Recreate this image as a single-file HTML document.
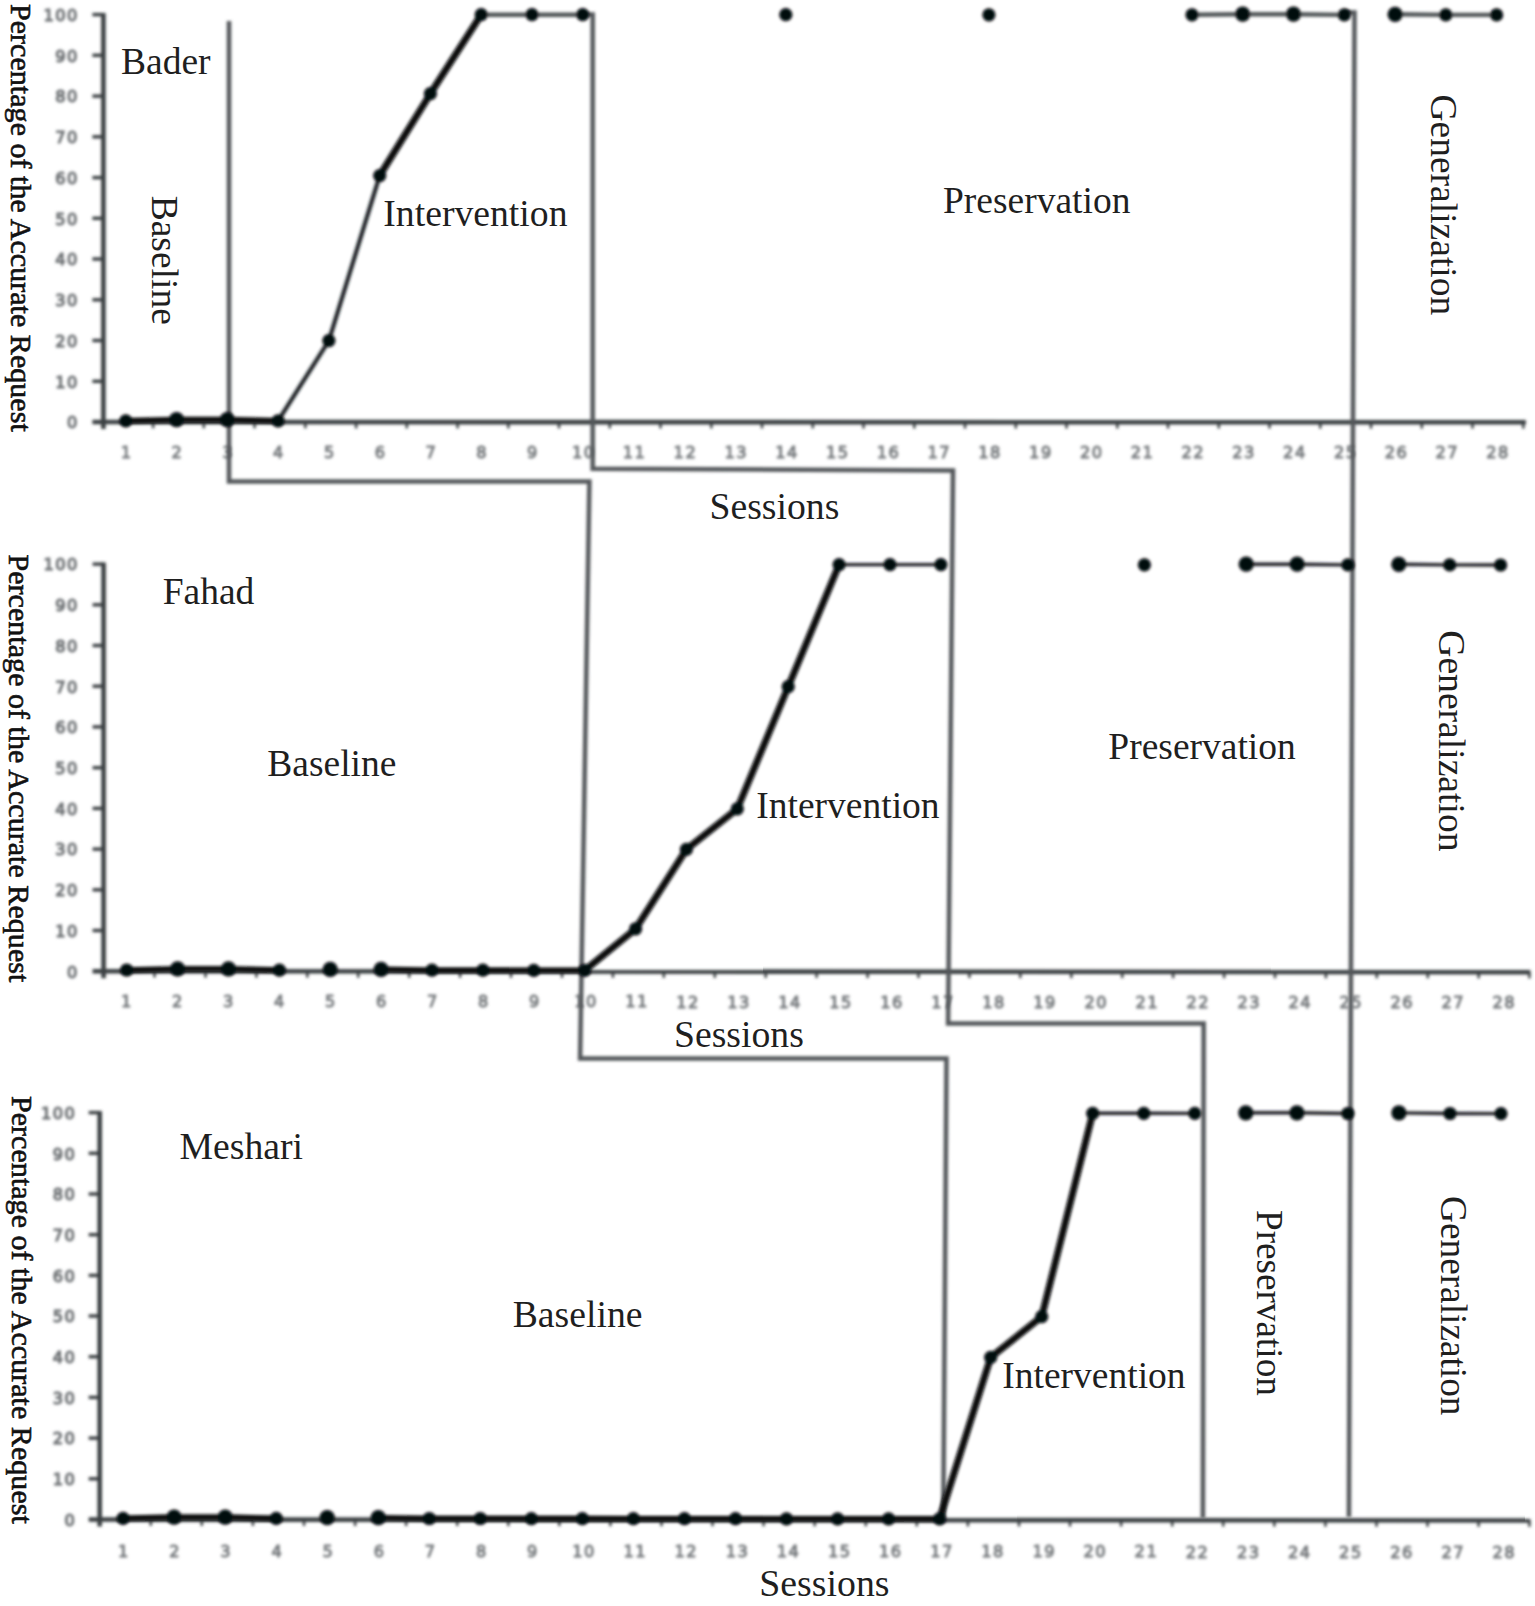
<!DOCTYPE html>
<html lang="en"><head><meta charset="utf-8"><title>Figure</title>
<style>html,body{margin:0;padding:0;background:#fff}svg{display:block}.t{font-family:"Liberation Serif","DejaVu Serif",serif;fill:#1f1f1f}.n{font-family:"DejaVu Sans","Liberation Sans",sans-serif;fill:#707477}</style></head><body>
<svg width="1535" height="1606" viewBox="0 0 1535 1606">
<defs><filter id="b1" x="-5%" y="-5%" width="110%" height="110%"><feGaussianBlur stdDeviation="1.4"/></filter><filter id="b2" x="-5%" y="-5%" width="110%" height="110%"><feGaussianBlur stdDeviation="1.6"/></filter></defs>
<rect width="1535" height="1606" fill="#fff"/>
<g filter="url(#b1)">
<g stroke="#3a3f42" stroke-width="4.6" fill="none">
<path d="M103.4 13.1 V429.0"/>
<path d="M92.4 422.0 L1525.9 422.3"/>
</g>
<g stroke="#3a3f42" stroke-width="3.4">
<path d="M92.4 381.3 H103.4"/>
<path d="M92.4 340.5 H103.4"/>
<path d="M92.4 299.8 H103.4"/>
<path d="M92.4 259.0 H103.4"/>
<path d="M92.4 218.3 H103.4"/>
<path d="M92.4 177.6 H103.4"/>
<path d="M92.4 136.8 H103.4"/>
<path d="M92.4 96.1 H103.4"/>
<path d="M92.4 55.3 H103.4"/>
<path d="M92.4 14.6 H103.4"/>
</g>
<g stroke="#3a3f42" stroke-width="2.5">
<path d="M153.1 422.0 V428.3"/>
<path d="M203.8 422.0 V428.3"/>
<path d="M254.6 422.0 V428.3"/>
<path d="M305.3 422.0 V428.3"/>
<path d="M356.1 422.1 V428.4"/>
<path d="M406.8 422.1 V428.4"/>
<path d="M457.6 422.1 V428.4"/>
<path d="M508.3 422.1 V428.4"/>
<path d="M559.0 422.1 V428.4"/>
<path d="M609.8 422.1 V428.4"/>
<path d="M660.5 422.1 V428.4"/>
<path d="M711.3 422.1 V428.4"/>
<path d="M762.0 422.1 V428.4"/>
<path d="M812.8 422.1 V428.4"/>
<path d="M863.5 422.2 V428.5"/>
<path d="M914.3 422.2 V428.5"/>
<path d="M965.0 422.2 V428.5"/>
<path d="M1015.8 422.2 V428.5"/>
<path d="M1066.5 422.2 V428.5"/>
<path d="M1117.3 422.2 V428.5"/>
<path d="M1168.0 422.2 V428.5"/>
<path d="M1218.8 422.2 V428.5"/>
<path d="M1269.5 422.2 V428.5"/>
<path d="M1320.3 422.3 V428.6"/>
<path d="M1371.0 422.3 V428.6"/>
<path d="M1421.8 422.3 V428.6"/>
<path d="M1472.5 422.3 V428.6"/>
<path d="M1523.3 422.3 V428.6"/>
</g>
<g stroke="#3a3f42" stroke-width="4.6" fill="none">
<path d="M103.6 562.6 V978.2"/>
<path d="M92.6 971.2 L1530.4 972.1"/>
</g>
<g stroke="#3a3f42" stroke-width="3.4">
<path d="M92.6 930.5 H103.6"/>
<path d="M92.6 889.8 H103.6"/>
<path d="M92.6 849.1 H103.6"/>
<path d="M92.6 808.4 H103.6"/>
<path d="M92.6 767.7 H103.6"/>
<path d="M92.6 726.9 H103.6"/>
<path d="M92.6 686.2 H103.6"/>
<path d="M92.6 645.5 H103.6"/>
<path d="M92.6 604.8 H103.6"/>
<path d="M92.6 564.1 H103.6"/>
</g>
<g stroke="#3a3f42" stroke-width="2.5">
<path d="M154.5 971.2 V977.5"/>
<path d="M205.5 971.3 V977.6"/>
<path d="M256.4 971.3 V977.6"/>
<path d="M307.3 971.3 V977.6"/>
<path d="M358.2 971.4 V977.7"/>
<path d="M409.2 971.4 V977.7"/>
<path d="M460.1 971.4 V977.7"/>
<path d="M511.0 971.5 V977.8"/>
<path d="M562.0 971.5 V977.8"/>
<path d="M612.9 971.5 V977.8"/>
<path d="M663.8 971.6 V977.9"/>
<path d="M714.8 971.6 V977.9"/>
<path d="M765.7 971.6 V977.9"/>
<path d="M816.6 971.6 V977.9"/>
<path d="M867.6 971.7 V978.0"/>
<path d="M918.5 971.7 V978.0"/>
<path d="M969.4 971.7 V978.0"/>
<path d="M1020.3 971.8 V978.1"/>
<path d="M1071.3 971.8 V978.1"/>
<path d="M1122.2 971.8 V978.1"/>
<path d="M1173.1 971.9 V978.2"/>
<path d="M1224.1 971.9 V978.2"/>
<path d="M1275.0 971.9 V978.2"/>
<path d="M1325.9 972.0 V978.3"/>
<path d="M1376.8 972.0 V978.3"/>
<path d="M1427.8 972.0 V978.3"/>
<path d="M1478.7 972.1 V978.4"/>
<path d="M1529.4 972.1 V978.4"/>
</g>
<g stroke="#3a3f42" stroke-width="4.6" fill="none">
<path d="M99.7 1111.1 V1526.5"/>
<path d="M88.7 1519.5 L1530.4 1520.5"/>
</g>
<g stroke="#3a3f42" stroke-width="3.4">
<path d="M88.7 1478.8 H99.7"/>
<path d="M88.7 1438.1 H99.7"/>
<path d="M88.7 1397.4 H99.7"/>
<path d="M88.7 1356.7 H99.7"/>
<path d="M88.7 1316.0 H99.7"/>
<path d="M88.7 1275.4 H99.7"/>
<path d="M88.7 1234.7 H99.7"/>
<path d="M88.7 1194.0 H99.7"/>
<path d="M88.7 1153.3 H99.7"/>
<path d="M88.7 1112.6 H99.7"/>
</g>
<g stroke="#3a3f42" stroke-width="2.5">
<path d="M150.8 1519.5 V1525.8"/>
<path d="M201.8 1519.6 V1525.9"/>
<path d="M252.9 1519.6 V1525.9"/>
<path d="M304.0 1519.6 V1525.9"/>
<path d="M355.1 1519.7 V1526.0"/>
<path d="M406.1 1519.7 V1526.0"/>
<path d="M457.2 1519.7 V1526.0"/>
<path d="M508.3 1519.8 V1526.1"/>
<path d="M559.3 1519.8 V1526.1"/>
<path d="M610.4 1519.9 V1526.2"/>
<path d="M661.5 1519.9 V1526.2"/>
<path d="M712.5 1519.9 V1526.2"/>
<path d="M763.6 1520.0 V1526.3"/>
<path d="M814.7 1520.0 V1526.3"/>
<path d="M865.8 1520.0 V1526.3"/>
<path d="M916.8 1520.1 V1526.4"/>
<path d="M967.9 1520.1 V1526.4"/>
<path d="M1019.0 1520.1 V1526.4"/>
<path d="M1070.0 1520.2 V1526.5"/>
<path d="M1121.1 1520.2 V1526.5"/>
<path d="M1172.2 1520.2 V1526.5"/>
<path d="M1223.2 1520.3 V1526.6"/>
<path d="M1274.3 1520.3 V1526.6"/>
<path d="M1325.4 1520.4 V1526.7"/>
<path d="M1376.5 1520.4 V1526.7"/>
<path d="M1427.5 1520.4 V1526.7"/>
<path d="M1478.6 1520.5 V1526.8"/>
<path d="M1529.4 1520.5 V1526.8"/>
</g>
</g>
<g class="n" filter="url(#b2)" font-size="16.2" letter-spacing="1.5" style="fill:#6a6e71" stroke="#6a6e71" stroke-width="1.1">
<text x="78.9" y="428.3" text-anchor="end">0</text>
<text x="78.9" y="387.6" text-anchor="end">10</text>
<text x="78.9" y="346.8" text-anchor="end">20</text>
<text x="78.9" y="306.1" text-anchor="end">30</text>
<text x="78.9" y="265.3" text-anchor="end">40</text>
<text x="78.9" y="224.6" text-anchor="end">50</text>
<text x="78.9" y="183.9" text-anchor="end">60</text>
<text x="78.9" y="143.1" text-anchor="end">70</text>
<text x="78.9" y="102.4" text-anchor="end">80</text>
<text x="78.9" y="61.6" text-anchor="end">90</text>
<text x="78.9" y="20.9" text-anchor="end">100</text>
<text x="78.9" y="977.5" text-anchor="end">0</text>
<text x="78.9" y="936.8" text-anchor="end">10</text>
<text x="78.9" y="896.1" text-anchor="end">20</text>
<text x="78.9" y="855.4" text-anchor="end">30</text>
<text x="78.9" y="814.7" text-anchor="end">40</text>
<text x="78.9" y="774.0" text-anchor="end">50</text>
<text x="78.9" y="733.2" text-anchor="end">60</text>
<text x="78.9" y="692.5" text-anchor="end">70</text>
<text x="78.9" y="651.8" text-anchor="end">80</text>
<text x="78.9" y="611.1" text-anchor="end">90</text>
<text x="78.9" y="570.4" text-anchor="end">100</text>
<text x="76.4" y="1525.8" text-anchor="end">0</text>
<text x="76.4" y="1485.1" text-anchor="end">10</text>
<text x="76.4" y="1444.4" text-anchor="end">20</text>
<text x="76.4" y="1403.7" text-anchor="end">30</text>
<text x="76.4" y="1363.0" text-anchor="end">40</text>
<text x="76.4" y="1322.3" text-anchor="end">50</text>
<text x="76.4" y="1281.7" text-anchor="end">60</text>
<text x="76.4" y="1241.0" text-anchor="end">70</text>
<text x="76.4" y="1200.3" text-anchor="end">80</text>
<text x="76.4" y="1159.6" text-anchor="end">90</text>
<text x="76.4" y="1118.9" text-anchor="end">100</text>
</g>
<g class="n" filter="url(#b2)" font-size="16.2" letter-spacing="1.5" style="fill:#74787b" stroke="#74787b" stroke-width="0.9">
<text x="126.6" y="457.9" text-anchor="middle">1</text>
<text x="177.4" y="457.9" text-anchor="middle">2</text>
<text x="228.2" y="457.9" text-anchor="middle">3</text>
<text x="279.0" y="457.9" text-anchor="middle">4</text>
<text x="329.8" y="457.9" text-anchor="middle">5</text>
<text x="380.6" y="458.0" text-anchor="middle">6</text>
<text x="431.4" y="458.0" text-anchor="middle">7</text>
<text x="482.2" y="458.0" text-anchor="middle">8</text>
<text x="533.0" y="458.0" text-anchor="middle">9</text>
<text x="583.8" y="458.0" text-anchor="middle">10</text>
<text x="634.6" y="458.0" text-anchor="middle">11</text>
<text x="685.4" y="458.0" text-anchor="middle">12</text>
<text x="736.2" y="458.0" text-anchor="middle">13</text>
<text x="787.0" y="458.0" text-anchor="middle">14</text>
<text x="837.7" y="458.1" text-anchor="middle">15</text>
<text x="888.5" y="458.1" text-anchor="middle">16</text>
<text x="939.3" y="458.1" text-anchor="middle">17</text>
<text x="990.1" y="458.1" text-anchor="middle">18</text>
<text x="1040.9" y="458.1" text-anchor="middle">19</text>
<text x="1091.7" y="458.1" text-anchor="middle">20</text>
<text x="1142.5" y="458.1" text-anchor="middle">21</text>
<text x="1193.3" y="458.1" text-anchor="middle">22</text>
<text x="1244.1" y="458.1" text-anchor="middle">23</text>
<text x="1294.9" y="458.2" text-anchor="middle">24</text>
<text x="1345.7" y="458.2" text-anchor="middle">25</text>
<text x="1396.5" y="458.2" text-anchor="middle">26</text>
<text x="1447.3" y="458.2" text-anchor="middle">27</text>
<text x="1498.1" y="458.2" text-anchor="middle">28</text>
<text x="126.8" y="1007.1" text-anchor="middle">1</text>
<text x="177.8" y="1007.1" text-anchor="middle">2</text>
<text x="228.8" y="1007.2" text-anchor="middle">3</text>
<text x="279.9" y="1007.2" text-anchor="middle">4</text>
<text x="330.9" y="1007.2" text-anchor="middle">5</text>
<text x="381.9" y="1007.3" text-anchor="middle">6</text>
<text x="432.9" y="1007.3" text-anchor="middle">7</text>
<text x="483.9" y="1007.3" text-anchor="middle">8</text>
<text x="534.9" y="1007.4" text-anchor="middle">9</text>
<text x="586.0" y="1007.4" text-anchor="middle">10</text>
<text x="637.0" y="1007.4" text-anchor="middle">11</text>
<text x="688.0" y="1007.5" text-anchor="middle">12</text>
<text x="739.0" y="1007.5" text-anchor="middle">13</text>
<text x="790.0" y="1007.5" text-anchor="middle">14</text>
<text x="841.1" y="1007.6" text-anchor="middle">15</text>
<text x="892.1" y="1007.6" text-anchor="middle">16</text>
<text x="943.1" y="1007.6" text-anchor="middle">17</text>
<text x="994.1" y="1007.7" text-anchor="middle">18</text>
<text x="1045.1" y="1007.7" text-anchor="middle">19</text>
<text x="1096.2" y="1007.7" text-anchor="middle">20</text>
<text x="1147.2" y="1007.8" text-anchor="middle">21</text>
<text x="1198.2" y="1007.8" text-anchor="middle">22</text>
<text x="1249.2" y="1007.8" text-anchor="middle">23</text>
<text x="1300.2" y="1007.9" text-anchor="middle">24</text>
<text x="1351.2" y="1007.9" text-anchor="middle">25</text>
<text x="1402.3" y="1007.9" text-anchor="middle">26</text>
<text x="1453.3" y="1008.0" text-anchor="middle">27</text>
<text x="1504.3" y="1008.0" text-anchor="middle">28</text>
<text x="124.0" y="1556.7" text-anchor="middle">1</text>
<text x="175.1" y="1556.8" text-anchor="middle">2</text>
<text x="226.2" y="1556.8" text-anchor="middle">3</text>
<text x="277.4" y="1556.8" text-anchor="middle">4</text>
<text x="328.5" y="1556.9" text-anchor="middle">5</text>
<text x="379.6" y="1556.9" text-anchor="middle">6</text>
<text x="430.7" y="1556.9" text-anchor="middle">7</text>
<text x="481.9" y="1557.0" text-anchor="middle">8</text>
<text x="533.0" y="1557.0" text-anchor="middle">9</text>
<text x="584.1" y="1557.0" text-anchor="middle">10</text>
<text x="635.2" y="1557.1" text-anchor="middle">11</text>
<text x="686.3" y="1557.1" text-anchor="middle">12</text>
<text x="737.5" y="1557.1" text-anchor="middle">13</text>
<text x="788.6" y="1557.2" text-anchor="middle">14</text>
<text x="839.7" y="1557.2" text-anchor="middle">15</text>
<text x="890.8" y="1557.3" text-anchor="middle">16</text>
<text x="942.0" y="1557.3" text-anchor="middle">17</text>
<text x="993.1" y="1557.3" text-anchor="middle">18</text>
<text x="1044.2" y="1557.4" text-anchor="middle">19</text>
<text x="1095.3" y="1557.4" text-anchor="middle">20</text>
<text x="1146.4" y="1557.4" text-anchor="middle">21</text>
<text x="1197.6" y="1557.5" text-anchor="middle">22</text>
<text x="1248.7" y="1557.5" text-anchor="middle">23</text>
<text x="1299.8" y="1557.5" text-anchor="middle">24</text>
<text x="1350.9" y="1557.6" text-anchor="middle">25</text>
<text x="1402.1" y="1557.6" text-anchor="middle">26</text>
<text x="1453.2" y="1557.6" text-anchor="middle">27</text>
<text x="1504.3" y="1557.7" text-anchor="middle">28</text>
</g>
<g filter="url(#b1)" stroke="#52575a" stroke-width="4.5" fill="none" stroke-linejoin="miter">
<path d="M229 21 V481.6 H589.4 L580.1 1058.6 H946.5 L943.3 1518"/>
<path d="M582 14.6 H592.7 V468.7 L953 470.5 L948.1 1023.4 H1203.7 L1202.9 1518"/>
<path d="M1344 12.6 H1354.5 L1348.9 1517"/>
</g>
<g filter="url(#b1)">
<path d="M125.8 420.8 L176.6 419.6" stroke="#0c0c0c" stroke-width="5.6"/>
<path d="M176.6 419.6 L227.3 419.6" stroke="#0c0c0c" stroke-width="5.6"/>
<path d="M227.3 419.6 L278.1 420.8" stroke="#0c0c0c" stroke-width="5.6"/>
<path d="M278.1 420.8 L328.9 340.6" stroke="#1d2126" stroke-width="4.2" stroke-linecap="round"/>
<path d="M328.9 340.6 L379.7 175.6" stroke="#1d2126" stroke-width="4.2" stroke-linecap="round"/>
<path d="M379.7 175.6 L430.4 93.7" stroke="#08090b" stroke-width="6.8" stroke-linecap="round"/>
<path d="M430.4 93.7 L481.2 14.7" stroke="#08090b" stroke-width="6.8" stroke-linecap="round"/>
<path d="M481.2 14.7 L532.0 14.7" stroke="#4f5457" stroke-width="4.4"/>
<path d="M532.0 14.7 L582.7 14.7" stroke="#4f5457" stroke-width="4.4"/>
<circle cx="125.8" cy="420.8" r="6.6" fill="#06070b"/>
<circle cx="176.6" cy="419.6" r="7.6" fill="#06070b"/>
<circle cx="227.3" cy="419.6" r="7.6" fill="#06070b"/>
<circle cx="278.1" cy="420.8" r="6.6" fill="#06070b"/>
<circle cx="328.9" cy="340.6" r="6.6" fill="#06070b"/>
<circle cx="379.7" cy="175.6" r="6.6" fill="#06070b"/>
<circle cx="430.4" cy="93.7" r="6.6" fill="#06070b"/>
<circle cx="481.2" cy="14.7" r="6.6" fill="#06070b"/>
<circle cx="532.0" cy="14.7" r="6.6" fill="#06070b"/>
<circle cx="582.7" cy="14.7" r="6.6" fill="#06070b"/>
<circle cx="785.8" cy="14.7" r="6.6" fill="#06070b"/>
<circle cx="988.9" cy="14.8" r="6.6" fill="#06070b"/>
<path d="M1192.0 14.8 L1242.7 14.2" stroke="#4f5457" stroke-width="4.4"/>
<path d="M1242.7 14.2 L1293.5 14.2" stroke="#4f5457" stroke-width="4.4"/>
<path d="M1293.5 14.2 L1344.3 14.9" stroke="#4f5457" stroke-width="4.4"/>
<circle cx="1192.0" cy="14.8" r="6.6" fill="#06070b"/>
<circle cx="1242.7" cy="14.2" r="7.6" fill="#06070b"/>
<circle cx="1293.5" cy="14.2" r="7.6" fill="#06070b"/>
<circle cx="1344.3" cy="14.9" r="6.6" fill="#06070b"/>
<path d="M1395.1 14.3 L1445.8 14.9" stroke="#4f5457" stroke-width="4.4"/>
<path d="M1445.8 14.9 L1496.6 14.9" stroke="#4f5457" stroke-width="4.4"/>
<circle cx="1395.1" cy="14.3" r="7.6" fill="#06070b"/>
<circle cx="1445.8" cy="14.9" r="6.6" fill="#06070b"/>
<circle cx="1496.6" cy="14.9" r="6.6" fill="#06070b"/>
<path d="M126.7 970.0 L177.6 968.8" stroke="#0c0c0c" stroke-width="5.6"/>
<path d="M177.6 968.8 L228.5 968.8" stroke="#0c0c0c" stroke-width="5.6"/>
<path d="M228.5 968.8 L279.4 970.1" stroke="#0c0c0c" stroke-width="5.6"/>
<circle cx="126.7" cy="970.0" r="6.6" fill="#06070b"/>
<circle cx="177.6" cy="968.8" r="7.6" fill="#06070b"/>
<circle cx="228.5" cy="968.8" r="7.6" fill="#06070b"/>
<circle cx="279.4" cy="970.1" r="6.6" fill="#06070b"/>
<circle cx="330.2" cy="969.3" r="7.6" fill="#06070b"/>
<path d="M381.1 969.3 L432.0 970.2" stroke="#0c0c0c" stroke-width="5.6"/>
<path d="M432.0 970.2 L482.9 970.2" stroke="#0c0c0c" stroke-width="5.6"/>
<path d="M482.9 970.2 L533.8 970.3" stroke="#0c0c0c" stroke-width="5.6"/>
<path d="M533.8 970.3 L584.7 970.3" stroke="#0c0c0c" stroke-width="5.6"/>
<path d="M584.7 970.3 L635.6 928.8" stroke="#08090b" stroke-width="6.8" stroke-linecap="round"/>
<path d="M635.6 928.8 L686.4 849.4" stroke="#08090b" stroke-width="6.8" stroke-linecap="round"/>
<path d="M686.4 849.4 L737.3 808.8" stroke="#08090b" stroke-width="6.8" stroke-linecap="round"/>
<path d="M737.3 808.8 L788.2 686.7" stroke="#08090b" stroke-width="6.8" stroke-linecap="round"/>
<path d="M788.2 686.7 L839.1 564.6" stroke="#08090b" stroke-width="6.8" stroke-linecap="round"/>
<path d="M839.1 564.6 L890.0 564.6" stroke="#1b1d20" stroke-width="3.4"/>
<path d="M890.0 564.6 L940.9 564.6" stroke="#1b1d20" stroke-width="3.4"/>
<circle cx="381.1" cy="969.3" r="7.6" fill="#06070b"/>
<circle cx="432.0" cy="970.2" r="6.6" fill="#06070b"/>
<circle cx="482.9" cy="970.2" r="6.6" fill="#06070b"/>
<circle cx="533.8" cy="970.3" r="6.6" fill="#06070b"/>
<circle cx="584.7" cy="970.3" r="6.6" fill="#06070b"/>
<circle cx="635.6" cy="928.8" r="6.6" fill="#06070b"/>
<circle cx="686.4" cy="849.4" r="6.6" fill="#06070b"/>
<circle cx="737.3" cy="808.8" r="6.6" fill="#06070b"/>
<circle cx="788.2" cy="686.7" r="6.6" fill="#06070b"/>
<circle cx="839.1" cy="564.6" r="6.6" fill="#06070b"/>
<circle cx="890.0" cy="564.6" r="6.6" fill="#06070b"/>
<circle cx="940.9" cy="564.6" r="6.6" fill="#06070b"/>
<circle cx="1144.4" cy="564.8" r="6.6" fill="#06070b"/>
<path d="M1246.2 564.2 L1297.1 564.2" stroke="#1b1d20" stroke-width="3.4"/>
<path d="M1297.1 564.2 L1347.9 564.9" stroke="#1b1d20" stroke-width="3.4"/>
<circle cx="1246.2" cy="564.2" r="7.6" fill="#06070b"/>
<circle cx="1297.1" cy="564.2" r="7.6" fill="#06070b"/>
<circle cx="1347.9" cy="564.9" r="6.6" fill="#06070b"/>
<path d="M1398.8 564.3 L1449.7 564.9" stroke="#1b1d20" stroke-width="3.4"/>
<path d="M1449.7 564.9 L1500.6 565.0" stroke="#1b1d20" stroke-width="3.4"/>
<circle cx="1398.8" cy="564.3" r="7.6" fill="#06070b"/>
<circle cx="1449.7" cy="564.9" r="6.6" fill="#06070b"/>
<circle cx="1500.6" cy="565.0" r="6.6" fill="#06070b"/>
<path d="M123.1 1518.3 L174.1 1517.1" stroke="#0c0c0c" stroke-width="5.6"/>
<path d="M174.1 1517.1 L225.2 1517.1" stroke="#0c0c0c" stroke-width="5.6"/>
<path d="M225.2 1517.1 L276.2 1518.4" stroke="#0c0c0c" stroke-width="5.6"/>
<circle cx="123.1" cy="1518.3" r="6.6" fill="#06070b"/>
<circle cx="174.1" cy="1517.1" r="7.6" fill="#06070b"/>
<circle cx="225.2" cy="1517.1" r="7.6" fill="#06070b"/>
<circle cx="276.2" cy="1518.4" r="6.6" fill="#06070b"/>
<circle cx="327.2" cy="1517.6" r="7.6" fill="#06070b"/>
<path d="M378.3 1517.7 L429.3 1518.5" stroke="#0c0c0c" stroke-width="5.6"/>
<path d="M429.3 1518.5 L480.3 1518.5" stroke="#0c0c0c" stroke-width="5.6"/>
<path d="M480.3 1518.5 L531.4 1518.6" stroke="#0c0c0c" stroke-width="5.6"/>
<path d="M531.4 1518.6 L582.4 1518.6" stroke="#0c0c0c" stroke-width="5.6"/>
<path d="M582.4 1518.6 L633.4 1518.7" stroke="#0c0c0c" stroke-width="5.6"/>
<path d="M633.4 1518.7 L684.5 1518.7" stroke="#0c0c0c" stroke-width="5.6"/>
<path d="M684.5 1518.7 L735.5 1518.7" stroke="#0c0c0c" stroke-width="5.6"/>
<path d="M735.5 1518.7 L786.5 1518.8" stroke="#0c0c0c" stroke-width="5.6"/>
<path d="M786.5 1518.8 L837.6 1518.8" stroke="#0c0c0c" stroke-width="5.6"/>
<path d="M837.6 1518.8 L888.6 1518.8" stroke="#0c0c0c" stroke-width="5.6"/>
<path d="M888.6 1518.8 L939.6 1518.9" stroke="#0c0c0c" stroke-width="5.6"/>
<path d="M939.6 1518.9 L990.7 1357.4" stroke="#08090b" stroke-width="6.8" stroke-linecap="round"/>
<path d="M990.7 1357.4 L1041.7 1316.7" stroke="#08090b" stroke-width="6.8" stroke-linecap="round"/>
<path d="M1041.7 1316.7 L1092.7 1113.3" stroke="#08090b" stroke-width="6.8" stroke-linecap="round"/>
<path d="M1092.7 1113.3 L1143.8 1113.3" stroke="#1b1d20" stroke-width="3.4"/>
<path d="M1143.8 1113.3 L1194.8 1113.4" stroke="#1b1d20" stroke-width="3.4"/>
<circle cx="378.3" cy="1517.7" r="7.6" fill="#06070b"/>
<circle cx="429.3" cy="1518.5" r="6.6" fill="#06070b"/>
<circle cx="480.3" cy="1518.5" r="6.6" fill="#06070b"/>
<circle cx="531.4" cy="1518.6" r="6.6" fill="#06070b"/>
<circle cx="582.4" cy="1518.6" r="6.6" fill="#06070b"/>
<circle cx="633.4" cy="1518.7" r="6.6" fill="#06070b"/>
<circle cx="684.5" cy="1518.7" r="6.6" fill="#06070b"/>
<circle cx="735.5" cy="1518.7" r="6.6" fill="#06070b"/>
<circle cx="786.5" cy="1518.8" r="6.6" fill="#06070b"/>
<circle cx="837.6" cy="1518.8" r="6.6" fill="#06070b"/>
<circle cx="888.6" cy="1518.8" r="6.6" fill="#06070b"/>
<circle cx="939.6" cy="1518.9" r="6.6" fill="#06070b"/>
<circle cx="990.7" cy="1357.4" r="6.6" fill="#06070b"/>
<circle cx="1041.7" cy="1316.7" r="6.6" fill="#06070b"/>
<circle cx="1092.7" cy="1113.3" r="6.6" fill="#06070b"/>
<circle cx="1143.8" cy="1113.3" r="6.6" fill="#06070b"/>
<circle cx="1194.8" cy="1113.4" r="6.6" fill="#06070b"/>
<path d="M1245.8 1112.8 L1296.9 1112.8" stroke="#1b1d20" stroke-width="3.4"/>
<path d="M1296.9 1112.8 L1347.9 1113.5" stroke="#1b1d20" stroke-width="3.4"/>
<circle cx="1245.8" cy="1112.8" r="7.6" fill="#06070b"/>
<circle cx="1296.9" cy="1112.8" r="7.6" fill="#06070b"/>
<circle cx="1347.9" cy="1113.5" r="6.6" fill="#06070b"/>
<path d="M1398.9 1112.9 L1450.0 1113.5" stroke="#1b1d20" stroke-width="3.4"/>
<path d="M1450.0 1113.5 L1501.0 1113.6" stroke="#1b1d20" stroke-width="3.4"/>
<circle cx="1398.9" cy="1112.9" r="7.6" fill="#06070b"/>
<circle cx="1450.0" cy="1113.5" r="6.6" fill="#06070b"/>
<circle cx="1501.0" cy="1113.6" r="6.6" fill="#06070b"/>
</g>
<text class="t" x="11.2" y="4.0" font-size="30.1" stroke="#111" stroke-width="0.6" fill="#111" style="fill:#111" transform="rotate(90 11.2 4.0)">Percentage of the Accurate Request</text>
<text class="t" x="9.0" y="554.5" font-size="30.1" stroke="#111" stroke-width="0.6" fill="#111" style="fill:#111" transform="rotate(90 9.0 554.5)">Percentage of the Accurate Request</text>
<text class="t" x="11.5" y="1096.0" font-size="30.1" stroke="#111" stroke-width="0.6" fill="#111" style="fill:#111" transform="rotate(90 11.5 1096.0)">Percentage of the Accurate Request</text>
<text class="t" x="121.0" y="73.5" font-size="37.5" text-anchor="start">Bader</text>
<text class="t" x="151.8" y="195.7" font-size="37.5" text-anchor="start" transform="rotate(90 151.8 195.7)">Baseline</text>
<text class="t" x="383.3" y="225.8" font-size="37.7" text-anchor="start">Intervention</text>
<text class="t" x="943.0" y="213.2" font-size="37.5" text-anchor="start">Preservation</text>
<text class="t" x="1431.0" y="94.5" font-size="37.5" text-anchor="start" transform="rotate(90 1431.0 94.5)">Generalization</text>
<text class="t" x="709.5" y="518.6" font-size="37.7" text-anchor="start">Sessions</text>
<text class="t" x="162.7" y="603.7" font-size="37.5" text-anchor="start">Fahad</text>
<text class="t" x="267.3" y="776.2" font-size="37.5" text-anchor="start">Baseline</text>
<text class="t" x="756.3" y="818.3" font-size="37.5" text-anchor="start">Intervention</text>
<text class="t" x="1108.3" y="759.0" font-size="37.5" text-anchor="start">Preservation</text>
<text class="t" x="1438.5" y="630.3" font-size="37.6" text-anchor="start" transform="rotate(90 1438.5 630.3)">Generalization</text>
<text class="t" x="674.0" y="1046.6" font-size="37.7" text-anchor="start">Sessions</text>
<text class="t" x="179.5" y="1158.7" font-size="37.7" text-anchor="start">Meshari</text>
<text class="t" x="512.7" y="1326.5" font-size="37.7" text-anchor="start">Baseline</text>
<text class="t" x="1002.3" y="1387.8" font-size="37.5" text-anchor="start">Intervention</text>
<text class="t" x="1257.4" y="1210.0" font-size="37.2" text-anchor="start" transform="rotate(90 1257.4 1210.0)">Preservation</text>
<text class="t" x="1441.3" y="1196.0" font-size="37.3" text-anchor="start" transform="rotate(90 1441.3 1196.0)">Generalization</text>
<text class="t" x="759.3" y="1595.6" font-size="37.8" text-anchor="start">Sessions</text>
</svg></body></html>
